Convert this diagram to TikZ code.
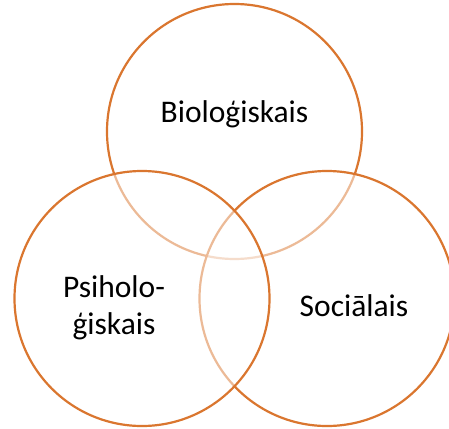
\documentclass[tikz,border=0pt]{standalone}
\usepackage{fontspec}
\setmainfont{Carlito}
\definecolor{vennOrange}{RGB}{218, 118, 47}
\usepackage{tikz}

\begin{document}
\begin{tikzpicture}[x=1pt, y=-1pt, style={line cap = round},
  vennRing/.style={circle, draw=vennOrange, line width=2.2pt, fill=white, fill opacity=0.5, minimum size=255pt, inner sep=0pt},
  vennText/.style={align=center, inner sep=0pt, font=\fontsize{31.5}{37}\selectfont, text=black}]

  \useasboundingbox (0, 0) rectangle (449, 428);
  % draw order top, right, left
  \node[vennRing] (bio) at (234.5, 131.5) {};
  \node[vennRing] (soc) at (327, 298.5) {};
  \node[vennRing] (psi) at (142, 298.5) {};

  \node[vennText, anchor=base] (bioText) at (234.5, 122) {Bioloģiskais};
  \node[vennText] (psiText) at (114, 308) {Psiholo-\\ģiskais};
  \node[vennText, anchor=base] (socText) at (354, 316.5) {Sociālais};

\end{tikzpicture}
\end{document}
